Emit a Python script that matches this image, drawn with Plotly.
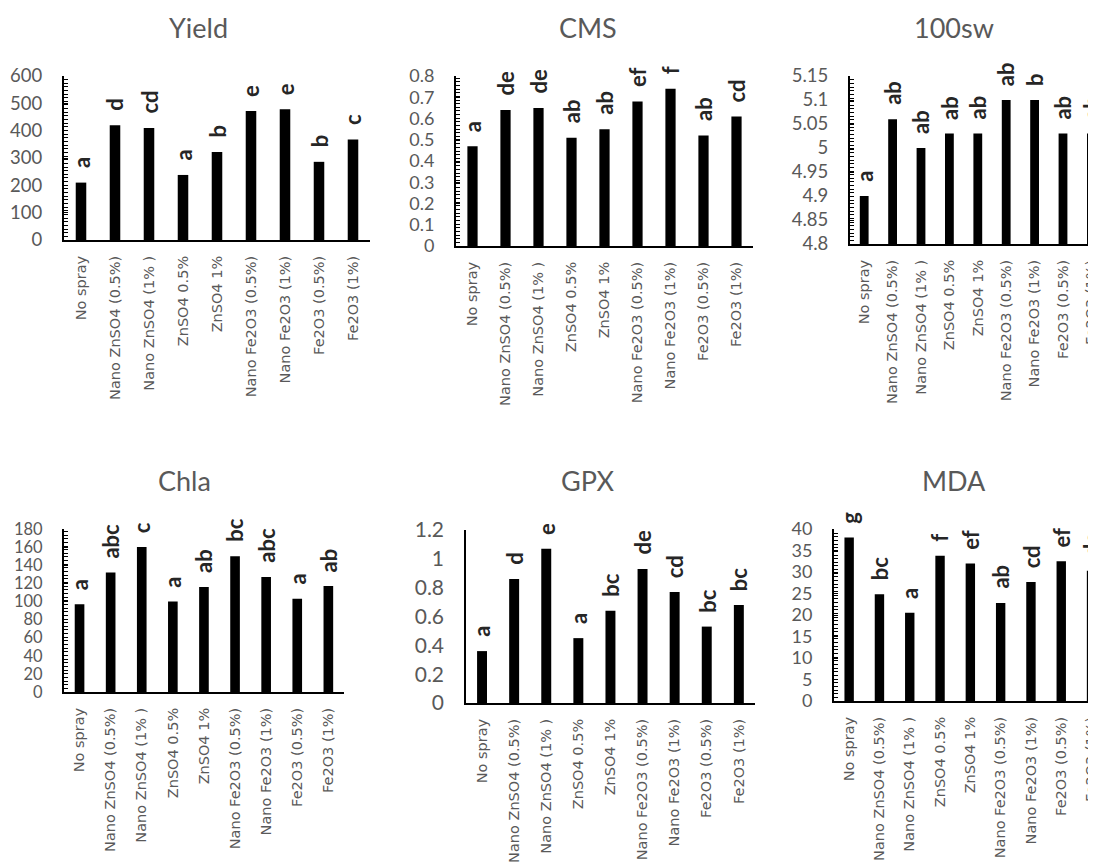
import plotly.graph_objects as go

categories = ["No spray", "Nano ZnSO4 (0.5%)", "Nano ZnSO4 (1% )", "ZnSO4 0.5%", "ZnSO4 1%",
              "Nano Fe2O3 (0.5%)", "Nano Fe2O3 (1%)", "Fe2O3 (0.5%)", "Fe2O3 (1%)"]

yield_vals = [210, 420, 410, 238, 322, 472, 478, 286, 368]
yield_letters = ["a", "d", "cd", "a", "b", "e", "e", "b", "c"]
cms_vals = [0.47, 0.64, 0.65, 0.51, 0.55, 0.68, 0.74, 0.52, 0.61]
cms_letters = ["a", "de", "de", "ab", "ab", "ef", "f", "ab", "cd"]
sw_vals = [4.90, 5.06, 5.00, 5.03, 5.03, 5.10, 5.10, 5.03, 5.03]
sw_letters = ["a", "ab", "ab", "ab", "ab", "ab", "b", "ab", "ab"]
chla_vals = [97, 132, 160, 100, 116, 150, 127, 103, 117]
chla_letters = ["a", "abc", "c", "a", "ab", "bc", "abc", "a", "ab"]
gpx_vals = [0.36, 0.86, 1.07, 0.45, 0.64, 0.93, 0.77, 0.53, 0.68]
gpx_letters = ["a", "d", "e", "a", "bc", "de", "cd", "bc", "bc"]
mda_vals = [38, 24.8, 20.5, 33.8, 32.0, 22.8, 27.7, 32.5, 30.3]
mda_letters = ["g", "bc", "a", "f", "ef", "ab", "cd", "ef", "de"]

yield_ticks = [0, 100, 200, 300, 400, 500, 600]
yield_ticktext = ["0", "100", "200", "300", "400", "500", "600"]
cms_ticks = [0, 0.1, 0.2, 0.3, 0.4, 0.5, 0.6, 0.7, 0.8]
cms_ticktext = ["0", "0.1", "0.2", "0.3", "0.4", "0.5", "0.6", "0.7", "0.8"]
sw_ticks = [4.8, 4.85, 4.9, 4.95, 5.0, 5.05, 5.1, 5.15]
sw_ticktext = ["4.8", "4.85", "4.9", "4.95", "5", "5.05", "5.1", "5.15"]
chla_ticks = [0, 20, 40, 60, 80, 100, 120, 140, 160, 180]
chla_ticktext = ["0", "20", "40", "60", "80", "100", "120", "140", "160", "180"]
gpx_ticks = [0, 0.2, 0.4, 0.6, 0.8, 1.0, 1.2]
gpx_ticktext = ["0", "0.2", "0.4", "0.6", "0.8", "1", "1.2"]
mda_ticks = [0, 5, 10, 15, 20, 25, 30, 35, 40]
mda_ticktext = ["0", "5", "10", "15", "20", "25", "30", "35", "40"]

titles = ["Yield", "CMS", "100sw", "Chla", "GPX", "MDA"]

# page geometry: the figure sits inside the page body with an 8px offset
PAGE_W, PAGE_H = 1096, 863
OX, OY = 8, 8
FW, FH = PAGE_W - OX, PAGE_H - OY

def fx(px):
    return (px - OX) / FW

def fy(py):
    return 1 - (py - OY) / FH

# layout boxes in page pixels (style only)
panels = [
    dict(vals=yield_vals, letters=yield_letters, ticks=yield_ticks, ticktext=yield_ticktext,
         yr=[0, 600], box=(64, 370, 76, 240), cw=34, title_xy=(198, 27), comb=True, ylw=2, tfs=18.5),
    dict(vals=cms_vals, letters=cms_letters, ticks=cms_ticks, ticktext=cms_ticktext,
         yr=[0, 0.8], box=(456, 753, 76, 246), cw=33, title_xy=(588, 27), comb=True, ylw=2, tfs=18),
    dict(vals=sw_vals, letters=sw_letters, ticks=sw_ticks, ticktext=sw_ticktext,
         yr=[4.8, 5.15], box=(850, 1106, 76, 244), cw=28.4, title_xy=(954, 27), comb=True, ylw=2, tfs=18.5),
    dict(vals=chla_vals, letters=chla_letters, ticks=chla_ticks, ticktext=chla_ticktext,
         yr=[0, 180], box=(64, 344, 529, 692), cw=31.1, title_xy=(184, 480), comb=True, ylw=2, tfs=16.5),
    dict(vals=gpx_vals, letters=gpx_letters, ticks=gpx_ticks, ticktext=gpx_ticktext,
         yr=[0, 1.2], box=(466, 755, 530, 703), cw=32.1, title_xy=(588, 480), comb=False, ylw=1.5, tfs=21),
    dict(vals=mda_vals, letters=mda_letters, ticks=mda_ticks, ticktext=mda_ticktext,
         yr=[0, 40], box=(834, 1106, 529, 701), cw=30.3, title_xy=(954, 480), comb=True, ylw=2, tfs=18),
]

CAT_FONT = dict(family="DejaVu Sans", size=14.5, color="#595959")
LETTER_FONT = dict(family="Lato", size=22, color="#262626", weight="bold")
TITLE_FONT = dict(family="Lato", size=27, color="#595959")

fig = go.Figure()
annotations = []
layout_axes = {}

for i, p in enumerate(panels, start=1):
    x0, x1, y0, y1 = p["box"]
    xr_end = min(x1, PAGE_W)
    n_vis = (xr_end - x0) / p["cw"]
    xname = "x" if i == 1 else f"x{i}"
    yname = "y" if i == 1 else f"y{i}"
    fig.add_trace(go.Bar(
        x=categories, y=p["vals"], xaxis=xname, yaxis=yname,
        marker=dict(color="black", line=dict(width=0)), width=0.31, showlegend=False,
    ))
    axh = y1 - y0
    xa = dict(
        domain=[fx(x0), min(fx(xr_end), 1.0)], anchor=yname, type="category",
        range=[-0.5, -0.5 + n_vis], showline=True, linecolor="black", linewidth=2,
        ticks="", showgrid=False, zeroline=False, tickangle=-90, tickfont=CAT_FONT,
        ticklabelstandoff=8, fixedrange=True,
    )
    ya = dict(
        domain=[fy(y1), fy(y0)], anchor=xname, range=p["yr"],
        showline=True, linecolor="black", linewidth=p["ylw"], showgrid=False, zeroline=False,
        tickvals=p["ticks"], ticktext=p["ticktext"],
        tickfont=dict(family="Lato", size=p["tfs"], color="#595959"),
        ticks="", ticklabelstandoff=16, fixedrange=True,
    )
    if p["comb"]:
        span = p["yr"][1] - p["yr"][0]
        ya["minor"] = dict(ticks="inside", ticklen=4, tickwidth=1, tickcolor="black",
                           dtick=span / (axh / 3.65), tick0=p["yr"][0], showgrid=False)
        ya["ticks"] = "inside"
        ya["ticklen"] = 4
        ya["tickwidth"] = 1
        ya["tickcolor"] = "black"
    layout_axes["xaxis" if i == 1 else f"xaxis{i}"] = xa
    layout_axes["yaxis" if i == 1 else f"yaxis{i}"] = ya

    for c, v, t in zip(categories, p["vals"], p["letters"]):
        annotations.append(dict(
            x=c, y=v, xref=xname, yref=yname, text=t, textangle=-90, showarrow=False,
            xanchor="center", yanchor="bottom", yshift=12, font=LETTER_FONT,
        ))
    tx, ty = p["title_xy"]
    annotations.append(dict(
        x=fx(tx), y=fy(ty), xref="paper", yref="paper", text=titles[i - 1],
        showarrow=False, xanchor="center", yanchor="middle", font=TITLE_FONT,
    ))

fig.update_layout(
    width=FW, height=FH, margin=dict(l=0, r=0, t=0, b=0, autoexpand=False),
    paper_bgcolor="white", plot_bgcolor="white", annotations=annotations,
    showlegend=False, **layout_axes,
)

fig.write_html("out.html")
